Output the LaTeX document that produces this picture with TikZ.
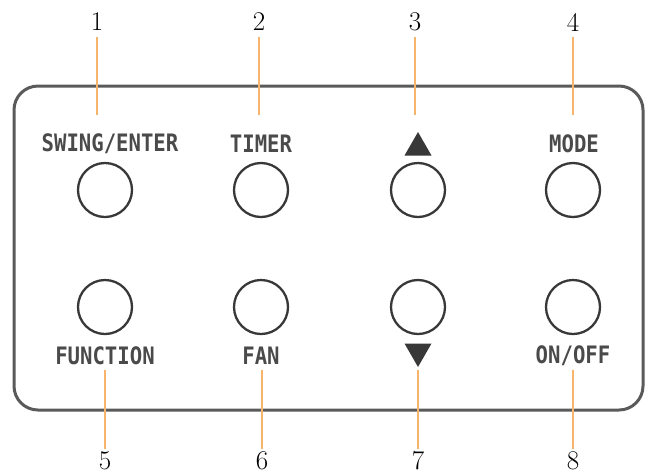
\documentclass[tikz,border=0pt]{standalone}
\usepackage{fontspec}
\newfontfamily\lblfont{DejaVu Sans Mono}
\definecolor{lead}{HTML}{F6B46C}
\definecolor{ink}{HTML}{383838}
\definecolor{frame}{HTML}{5A5A5A}
\definecolor{txt}{HTML}{4A4A4A}
\tikzset{
  btn/.style={circle,draw=ink,line width=2.3pt,minimum size=54pt,inner sep=0pt},
  lbl/.style={inner sep=0pt,text=txt,font=\lblfont\bfseries\fontsize{24}{24}\selectfont},
  num/.style={inner sep=0pt,font=\fontsize{27}{27}\selectfont,text=black},
  leadline/.style={draw=lead,line width=1.3pt},
  tri/.style={fill=ink,draw=none}
}
\newcommand{\nar}[1]{\scalebox{0.86}[1]{#1}}
\begin{document}
\begin{tikzpicture}[x=1pt,y=-1pt]
\useasboundingbox (0,0) rectangle (655,475);
% frame
\draw[frame,line width=3pt,rounded corners=24pt] (14,86) rectangle (643,410);
% buttons
\node[btn] (b1) at (105,190) {};
\node[btn] (b2) at (261,190) {};
\node[btn] (b3) at (418,190) {};
\node[btn] (b4) at (573,190) {};
\node[btn] (b5) at (105,307) {};
\node[btn] (b6) at (261,307) {};
\node[btn] (b7) at (418,307) {};
\node[btn] (b8) at (573,307) {};
% labels
\node[lbl] (l1) at (110,143.5) {\nar{SWING/ENTER}};
\node[lbl] (l2) at (261,143.5) {\nar{TIMER}};
\node[inner sep=0pt,minimum width=27pt,minimum height=23pt] (l3) at (418,144) {};
\fill[tri] (404.5,155.5) -- (431.5,155.5) -- (418,132) -- cycle;
\node[lbl] (l4) at (574,143.5) {\nar{MODE}};
\node[lbl] (l5) at (105,355.5) {\nar{FUNCTION}};
\node[lbl] (l6) at (261,355.5) {\nar{FAN}};
\node[inner sep=0pt,minimum width=27pt,minimum height=24pt] (l7) at (418,356) {};
\fill[tri] (404.5,343.5) -- (431.5,343.5) -- (418,367) -- cycle;
\node[lbl] (l8) at (573,355.5) {\nar{ON/OFF}};
% numbers
\node[num] (n1) at (97,22) {1};
\node[num] (n2) at (259,22) {2};
\node[num] (n3) at (415,22) {3};
\node[num] (n4) at (573,22) {4};
\node[num] (n5) at (105,461) {5};
\node[num] (n6) at (262,461) {6};
\node[num] (n7) at (418,461) {7};
\node[num] (n8) at (573,461) {8};
% leader ends
\coordinate (e1) at (97,115);
\coordinate (e2) at (259,115);
\coordinate (e3) at (415,115);
\coordinate (e4) at (573,115);
\coordinate (s5) at (105,370);
\coordinate (s6) at (262,370);
\coordinate (s7) at (418,370);
\coordinate (s8) at (573,370);
\coordinate (t5) at (105,449);
\coordinate (t6) at (262,449);
\coordinate (t7) at (418,449);
\coordinate (t8) at (573,449);
\coordinate (u1) at (97,37);
\coordinate (u2) at (259,37);
\coordinate (u3) at (415,37);
\coordinate (u4) at (573,37);
\draw[leadline] (u1) -- (e1);
\draw[leadline] (u2) -- (e2);
\draw[leadline] (u3) -- (e3);
\draw[leadline] (u4) -- (e4);
\draw[leadline] (s5) -- (t5);
\draw[leadline] (s6) -- (t6);
\draw[leadline] (s7) -- (t7);
\draw[leadline] (s8) -- (t8);
\end{tikzpicture}
\end{document}
